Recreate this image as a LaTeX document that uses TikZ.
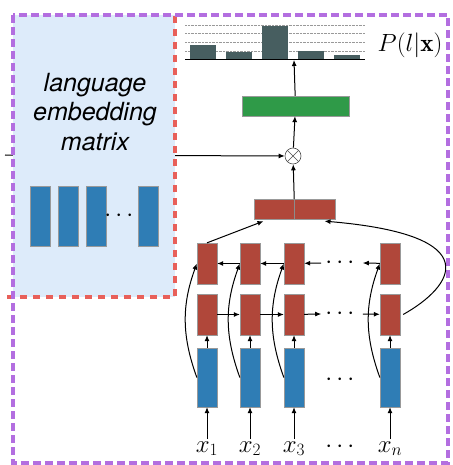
\documentclass[tikz,border=0pt]{standalone}
\usepackage{amsmath, amssymb}
\usepackage{fontspec}
\newfontfamily\helvfont{TeX Gyre Heros}
\usepackage{tikz}
\usetikzlibrary{arrows.meta}

\definecolor{rnnred}{HTML}{B0473A}
\definecolor{embblue}{HTML}{2F7DB5}
\definecolor{outgreen}{HTML}{2F9A48}
\definecolor{barcol}{HTML}{475E60}
\definecolor{matfill}{HTML}{DDEBFA}
\definecolor{dashred}{HTML}{E8605A}
\definecolor{dashpurple}{HTML}{B36EE0}

\begin{document}
\begin{tikzpicture}[x=1pt,y=-1pt,
  arr/.style={-{Latex[length=6pt,width=5pt]},line width=1pt},
  redbox/.style={fill=rnnred,draw=black!40,line width=0.3pt,minimum width=20pt,minimum height=41pt,inner sep=0pt},
  bluebox/.style={fill=embblue,draw=black!40,line width=0.3pt,minimum width=20pt,minimum height=59pt,inner sep=0pt},
  dotsnode/.style={font=\fontsize{28}{30}\selectfont,inner sep=0pt}]
  \useasboundingbox (0,0) rectangle (452,465);

  % Combination node and the line from the matrix
  \node[circle,draw=black!70,line width=0.6pt,minimum size=16pt,inner sep=0pt,
    path picture={\draw[black!70,line width=0.6pt] (path picture bounding box.north west) -- (path picture bounding box.south east)
      (path picture bounding box.north east) -- (path picture bounding box.south west);}] (mult) at (293,156) {};
  \coordinate (src) at (5,155);
  \draw[arr] (src) -- (mult);

  % Language embedding matrix
  \fill[matfill] (13,15) rectangle (175,297);
  \draw[dashred,line width=4pt,dash pattern=on 7pt off 6pt] (7,297) -| (175,15);
  \node[font=\helvfont\itshape\fontsize{25}{29.5}\selectfont,align=center] (embtxt) at (95,112) {language\\embedding\\matrix};
  \foreach \i/\x in {1/40,2/68,3/96,4/148} \node[bluebox,minimum height=60pt] (e\i) at (\x,216) {};
  \node[dotsnode] (edots) at (121,216) {$\cdots$};

  % Outer box
  \draw[dashpurple,line width=4pt,dash pattern=on 8pt off 4pt] (13,15) rectangle (448,463);

  % Output distribution
  \foreach \y in {25,33,42,51} \draw[densely dotted,black!40] (185,\y) -- (365,\y);
  \foreach \x/\h in {190/45,226/52,262/26,298/51,334/55} \fill[barcol] (\x,59) rectangle (\x+26,\h);
  \draw[line width=0.8pt] (185,59.5) -- (365,59.5);
  \coordinate (chart) at (294,60);
  \node[font=\fontsize{25}{30}\selectfont] (plx) at (410,45) {$P(l|\mathbf{x})$};

  % Softmax layer and concatenation
  \node[fill=outgreen,draw=black!40,line width=0.3pt,minimum width=107pt,minimum height=20pt,inner sep=0pt] (soft) at (295.5,106) {};
  \node[fill=rnnred,draw=black!40,line width=0.3pt,minimum width=81pt,minimum height=20pt,inner sep=0pt] (concat) at (294.5,209) {};
  \draw[black!45,line width=0.4pt] (concat.north) -- (concat.south);
  \draw[arr] (soft) -- (chart);
  \draw[arr] (mult) -- (soft);
  \draw[arr] (concat) -- (mult);

  % Inputs, forward and backward rows
  \foreach \i/\x/\lab in {1/207/1,2/250/2,3/294/3,4/390/n} {
    \node[anchor=base,font=\fontsize{24}{28}\selectfont,inner sep=2pt] (lab\i) at (\x,452) {$x_{\lab}$};
    \node[bluebox] (in\i) at (\x,377.5) {};
    \node[redbox] (fw\i) at (\x,314.5) {};
    \node[redbox] (bw\i) at (\x,263.5) {};
    \draw[arr] (lab\i) -- (in\i);
    \draw[arr] (in\i) -- (fw\i);
    \draw[arr] (in\i.west) to[out=110,in=-110] (bw\i.west);
  }
  \node[dotsnode] (fdots) at (342,314) {$\cdots$};
  \node[dotsnode] (bdots) at (342,263) {$\cdots$};
  \node[dotsnode] (idots) at (342,380) {$\cdots$};
  \node[dotsnode] (ldots) at (342,447) {$\cdots$};

  \draw[arr] (fw1) -- (fw2);
  \draw[arr] (fw2) -- (fw3);
  \draw[arr] (fw3) -- ([xshift=-4pt]fdots.west);
  \draw[arr] ([xshift=4pt]fdots.east) -- (fw4);
  \draw[arr] (bw4) -- ([xshift=4pt]bdots.east);
  \draw[arr] ([xshift=-4pt]bdots.west) -- (bw3);
  \draw[arr] (bw3) -- (bw2);
  \draw[arr] (bw2) -- (bw1);

  % Final states into the concatenation
  \draw[arr] (bw1.north) -- ([xshift=-31pt,yshift=-2pt]concat.south);
  \draw[arr] ([xshift=3pt]fw4.east) .. controls +(50,-28) and +(165,14) .. ([xshift=30pt,yshift=-2pt]concat.south);
\end{tikzpicture}
\end{document}
